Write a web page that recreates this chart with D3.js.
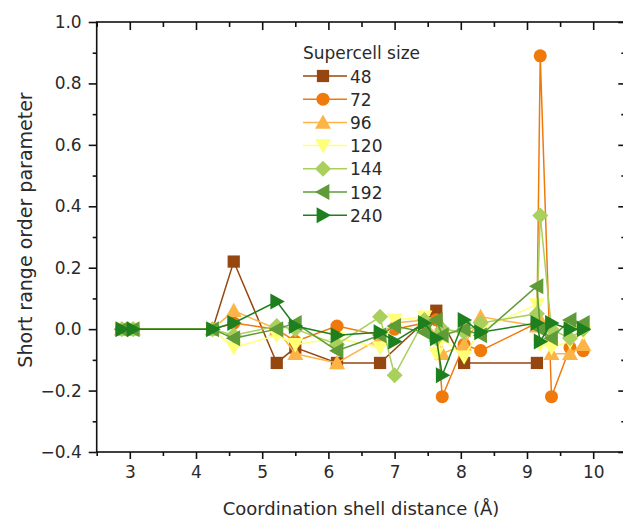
<!DOCTYPE html>
<html>
<head>
<meta charset="utf-8">
<script src="https://cdn.jsdelivr.net/npm/d3@7"></script>
<style>
  html, body { margin: 0; padding: 0; background: #fff; }
  svg { display: block; }
  text { font-family: "DejaVu Sans", Verdana, sans-serif; fill: #2a2a2a; }
</style>
</head>
<body>
<svg id="chart" width="623" height="519"></svg>
<script>
// ---- data ----
const shells = [2.88, 3.05, 4.25, 4.57, 5.22, 5.5, 6.13, 6.78, 7.0, 7.45, 7.63, 7.72, 8.05, 8.3, 9.15, 9.2, 9.37, 9.65, 9.85];
const seriesNames = ["48", "72", "96", "120", "144", "192", "240"];
const s48  = [0, 0, 0, 0.22, -0.11, -0.06, -0.11, -0.11, null, null, 0.06, null, -0.11, null, -0.11, null, null, null, null];
const s72  = [0, 0, 0, 0.02, 0.0, -0.04, 0.01, -0.02, 0.0, 0.02, 0.03, -0.22, -0.05, -0.07, 0.02, 0.89, -0.22, -0.06, -0.07];
const s96  = [0, 0, 0, 0.06, 0.0, -0.08, -0.11, -0.03, 0.02, 0.03, -0.02, -0.08, -0.05, 0.04, 0.01, 0.03, -0.08, -0.08, -0.05];
const s120 = [0, 0, 0, -0.06, -0.02, -0.05, -0.03, -0.06, 0.03, 0.04, -0.08, -0.03, -0.09, 0.0, 0.08, -0.05, -0.06, -0.04, -0.01];
const s144 = [0, 0, 0, -0.02, 0.01, 0.0, -0.05, 0.04, -0.15, 0.03, -0.03, 0.0, -0.01, 0.02, 0.05, 0.37, 0.0, -0.03, 0.0];
const s192 = [0, 0, 0, -0.03, 0.0, 0.02, -0.07, -0.02, 0.01, -0.01, 0.03, -0.02, 0.0, -0.02, 0.14, 0.0, -0.03, 0.03, 0.02];
const s240 = [0, 0, 0, 0.02, 0.09, 0.01, -0.02, -0.01, -0.04, 0.02, -0.03, -0.15, 0.03, -0.01, 0.02, -0.04, 0.02, 0.0, 0.0];
const seriesValues = [s48, s72, s96, s120, s144, s192, s240];
const xTicks = [3, 4, 5, 6, 7, 8, 9, 10];
const yTicks = [-0.4, -0.2, 0.0, 0.2, 0.4, 0.6, 0.8, 1.0];
const xLabel = "Coordination shell distance (Å)";
const yLabel = "Short range order parameter";
const legendTitle = "Supercell size";

// ---- styles ----
const colors = ["#96470f", "#ef7a0b", "#fdb447", "#ffff78", "#a9cf5c", "#5f9c37", "#1e7f1e"];
const symbols = ["square", "circle", "up", "down", "diamond", "left", "right"];

const svg = d3.select("#chart");
const L = 96.7, R = 626.3, T = 22, B = 452;
const x = d3.scaleLinear().domain([2.5, 10.5]).range([L, R]);
const y = d3.scaleLinear().domain([-0.4, 1.0]).range([B, T]);

function markerPath(i) {
  const sym = symbols[i];
  const h = 8;
  if (sym === "square") return d3.symbol().type(d3.symbolSquare).size(150)();
  if (sym === "circle") return d3.symbol().type(d3.symbolCircle).size(135)();
  if (sym === "diamond") return `M0,${-h}L${h},0L0,${h}L${-h},0Z`;
  if (sym === "up")    return `M0,${-h}L${h},${h*0.8}L${-h},${h*0.8}Z`;
  if (sym === "down")  return `M0,${h}L${h},${-h*0.8}L${-h},${-h*0.8}Z`;
  if (sym === "left")  return `M${-h},0L${h*0.8},${-h}L${h*0.8},${h}Z`;
  return `M${h},0L${-h*0.8},${-h}L${-h*0.8},${h}Z`;
}

// ---- axes ----
const axisG = svg.append("g");
const xMinor = d3.range(2.5, 10.51, 0.5).filter(v => Math.abs(v - Math.round(v)) > 0.01);
const yMinor = d3.range(-0.3, 1.0, 0.2);

function noDomain(g) { g.select(".domain").remove(); }
// bottom
axisG.append("g").attr("transform", `translate(0,${B})`)
  .call(d3.axisBottom(x).tickValues(xTicks).tickSize(7).tickPadding(7).tickFormat(d3.format("d"))).call(noDomain);
axisG.append("g").attr("transform", `translate(0,${B})`)
  .call(d3.axisBottom(x).tickValues(xMinor).tickSize(4).tickFormat("")).call(noDomain);
// top (inward)
axisG.append("g").attr("transform", `translate(0,${T})`)
  .call(d3.axisBottom(x).tickValues(xTicks).tickSize(8).tickFormat("")).call(noDomain);
axisG.append("g").attr("transform", `translate(0,${T})`)
  .call(d3.axisBottom(x).tickValues(xMinor).tickSize(5).tickFormat("")).call(noDomain);
// left
axisG.append("g").attr("transform", `translate(${L},0)`)
  .call(d3.axisLeft(y).tickValues(yTicks).tickSize(8).tickPadding(7).tickFormat(d3.format(".1f"))).call(noDomain);
axisG.append("g").attr("transform", `translate(${L},0)`)
  .call(d3.axisLeft(y).tickValues(yMinor).tickSize(4).tickFormat("")).call(noDomain);
// right (inward)
axisG.append("g").attr("transform", `translate(${R},0)`)
  .call(d3.axisLeft(y).tickValues(yTicks).tickSize(8).tickFormat("")).call(noDomain);
axisG.append("g").attr("transform", `translate(${R},0)`)
  .call(d3.axisLeft(y).tickValues(yMinor).tickSize(5).tickFormat("")).call(noDomain);

axisG.selectAll(".tick line").attr("stroke", "#111").attr("stroke-width", 1.6);
axisG.selectAll(".tick text").style("font-size", "17px").attr("fill", "#2a2a2a");

// frame
svg.append("rect").attr("x", L).attr("y", T).attr("width", R - L).attr("height", B - T)
  .attr("fill", "none").attr("stroke", "#111").attr("stroke-width", 1.6);

// axis titles
svg.append("text").attr("x", 361).attr("y", 515)
  .attr("text-anchor", "middle").style("font-size", "18px").text(xLabel);
svg.append("text").attr("transform", `translate(32,230) rotate(-90)`)
  .attr("text-anchor", "middle").style("font-size", "19px").text(yLabel);

// ---- series ----
const plot = svg.append("g");
seriesValues.forEach((vals, i) => {
  const pts = shells.map((s, k) => [s, vals[k]]).filter(p => p[1] !== null);
  plot.append("path")
    .attr("d", d3.line().x(p => x(p[0])).y(p => y(p[1]))(pts))
    .attr("fill", "none").attr("stroke", colors[i]).attr("stroke-width", 1.5);
  plot.selectAll(null).data(pts).enter().append("path")
    .attr("transform", p => `translate(${x(p[0])},${y(p[1])})`)
    .attr("d", markerPath(i))
    .attr("fill", colors[i]);
});

// ---- legend ----
const lg = svg.append("g");
lg.append("text").attr("x", 303).attr("y", 59).style("font-size", "17px").text(legendTitle);
seriesNames.forEach((name, i) => {
  const ly = 76 + i * 23.2;
  lg.append("line").attr("x1", 303).attr("x2", 347).attr("y1", ly).attr("y2", ly)
    .attr("stroke", colors[i]).attr("stroke-width", 1.5);
  lg.append("path").attr("transform", `translate(323,${ly})`).attr("d", markerPath(i)).attr("fill", colors[i]);
  lg.append("text").attr("x", 350).attr("y", ly + 6.5).style("font-size", "17px").text(name);
});
</script>
</body>
</html>
